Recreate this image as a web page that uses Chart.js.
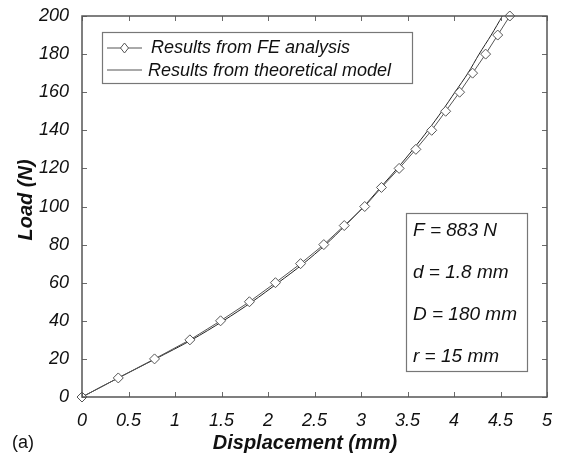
<!DOCTYPE html>
<html>
<head>
<meta charset="utf-8">
<script src="https://cdn.jsdelivr.net/npm/chart.js@4/dist/chart.umd.min.js"></script>
<style>
  html, body { margin: 0; padding: 0; background: #fff; }
  #wrap { width: 563px; height: 462px; }
</style>
</head>
<body>
<div id="wrap"><canvas id="canvas1" width="563" height="462"></canvas></div>
<script>
// load steps (N) and displacements (mm)
var loads = [0, 10, 20, 30, 40, 50, 60, 70, 80, 90, 100, 110, 120, 130, 140, 150, 160, 170, 180, 190, 200];
var feDisp = [0, 0.39, 0.78, 1.16, 1.49, 1.80, 2.08, 2.35, 2.60, 2.82, 3.04, 3.22, 3.41, 3.59, 3.76, 3.91, 4.06, 4.20, 4.34, 4.47, 4.60];
var theoryDisp = [0, 0.39, 0.79, 1.18, 1.52, 1.83, 2.11, 2.38, 2.62, 2.83, 3.03, 3.21, 3.39, 3.56, 3.72, 3.87, 4.01, 4.15, 4.27, 4.40, 4.52];

var legendLabels = ['Results from FE analysis', 'Results from theoretical model'];
var noteLines = ['F = 883 N', 'd = 1.8 mm', 'D = 180 mm', 'r = 15 mm'];

var xTitle = 'Displacement (mm)';
var yTitle = 'Load (N)';
var panelLabel = '(a)';

var fam = '"Liberation Sans", Arial, sans-serif';

function toPoints(xs, ys) {
  var pts = [];
  for (var i = 0; i < xs.length; i++) {
    pts.push({ x: xs[i], y: ys[i] });
  }
  return pts;
}

// inward ticks, full frame, legend box, note box and titles
var decor = {
  id: 'decor',
  afterDraw: function (chart) {
    var c = chart.ctx;
    var a = chart.chartArea;
    var xs = chart.scales.x, ys = chart.scales.y;
    c.save();
    c.strokeStyle = '#6a6a6a';
    c.lineWidth = 1;
    xs.ticks.forEach(function (t) {
      var px = Math.round(xs.getPixelForValue(t.value)) + 0.5;
      c.beginPath();
      c.moveTo(px, a.bottom); c.lineTo(px, a.bottom - 5);
      c.moveTo(px, a.top); c.lineTo(px, a.top + 5);
      c.stroke();
    });
    ys.ticks.forEach(function (t) {
      var py = Math.round(ys.getPixelForValue(t.value)) + 0.5;
      c.beginPath();
      c.moveTo(a.left, py); c.lineTo(a.left + 5, py);
      c.moveTo(a.right, py); c.lineTo(a.right - 5, py);
      c.stroke();
    });
    c.lineWidth = 1.5;
    c.strokeStyle = '#555';
    c.strokeRect(a.left, a.top, a.right - a.left, a.bottom - a.top);

    // legend
    c.lineWidth = 1.2;
    c.strokeStyle = '#777';
    c.fillStyle = '#fff';
    c.fillRect(102, 32, 310, 51);
    c.strokeRect(102.5, 32.5, 310, 51);
    c.strokeStyle = '#555';
    c.lineWidth = 1;
    c.beginPath(); c.moveTo(107, 48); c.lineTo(142, 48); c.stroke();
    c.beginPath(); c.moveTo(107, 70); c.lineTo(142, 70); c.stroke();
    c.beginPath();
    c.moveTo(124.5, 43); c.lineTo(128.5, 48); c.lineTo(124.5, 53); c.lineTo(120.5, 48); c.closePath();
    c.fill(); c.stroke();
    c.fillStyle = '#111';
    c.font = 'italic 18px ' + fam;
    c.textBaseline = 'middle';
    c.textAlign = 'left';
    c.fillText(legendLabels[0], 151, 48);
    c.fillText(legendLabels[1], 148, 71);

    // note box
    c.strokeStyle = '#777';
    c.lineWidth = 1.2;
    c.fillStyle = '#fff';
    c.fillRect(406, 213, 121, 158);
    c.strokeRect(406.5, 213.5, 121, 158);
    c.fillStyle = '#111';
    c.font = 'italic 19px ' + fam;
    for (var i = 0; i < noteLines.length; i++) {
      c.fillText(noteLines[i], 413, 231 + i * 42);
    }

    // axis titles
    c.font = 'bold italic 20px ' + fam;
    c.textAlign = 'center';
    c.fillText(xTitle, 305, 443);
    c.save();
    c.translate(26, 200);
    c.rotate(-Math.PI / 2);
    c.fillText(yTitle, 0, 0);
    c.restore();
    c.font = '18px ' + fam;
    c.textAlign = 'left';
    c.fillText(panelLabel, 12, 443);
    c.restore();
  }
};

var ctx = document.getElementById('canvas1').getContext('2d');
var myChart = new Chart(ctx, {
  type: 'line',
  data: {
    datasets: [
      {
        label: legendLabels[0],
        data: toPoints(feDisp, loads),
        borderColor: '#555',
        borderWidth: 1,
        pointStyle: 'rectRot',
        pointRadius: 5,
        pointBackgroundColor: '#fff',
        pointBorderColor: '#555',
        pointBorderWidth: 1,
        clip: false
      },
      {
        label: legendLabels[1],
        data: toPoints(theoryDisp, loads),
        borderColor: '#222',
        borderWidth: 1,
        pointRadius: 0,
        tension: 0.3,
        clip: false
      }
    ]
  },
  options: {
    responsive: false,
    animation: false,
    layout: { padding: { top: 16, right: 16, left: 0, bottom: 0 } },
    plugins: { legend: { display: false }, tooltip: { enabled: false } },
    scales: {
      x: {
        type: 'linear',
        min: 0, max: 5,
        grid: { display: false },
        border: { display: false },
        ticks: {
          stepSize: 0.5,
          color: '#111',
          padding: 5,
          maxRotation: 0,
          font: { family: fam, size: 18, style: 'italic' },
          callback: function (v) { return String(Math.round(v * 10) / 10); }
        },
        afterFit: function (s) { s.height = 65; }
      },
      y: {
        type: 'linear',
        min: 0, max: 200,
        grid: { display: false },
        border: { display: false },
        ticks: {
          stepSize: 20,
          color: '#111',
          padding: 5,
          font: { family: fam, size: 18, style: 'italic' }
        },
        afterFit: function (s) { s.width = 82; }
      }
    }
  },
  plugins: [decor]
});
</script>
</body>
</html>
